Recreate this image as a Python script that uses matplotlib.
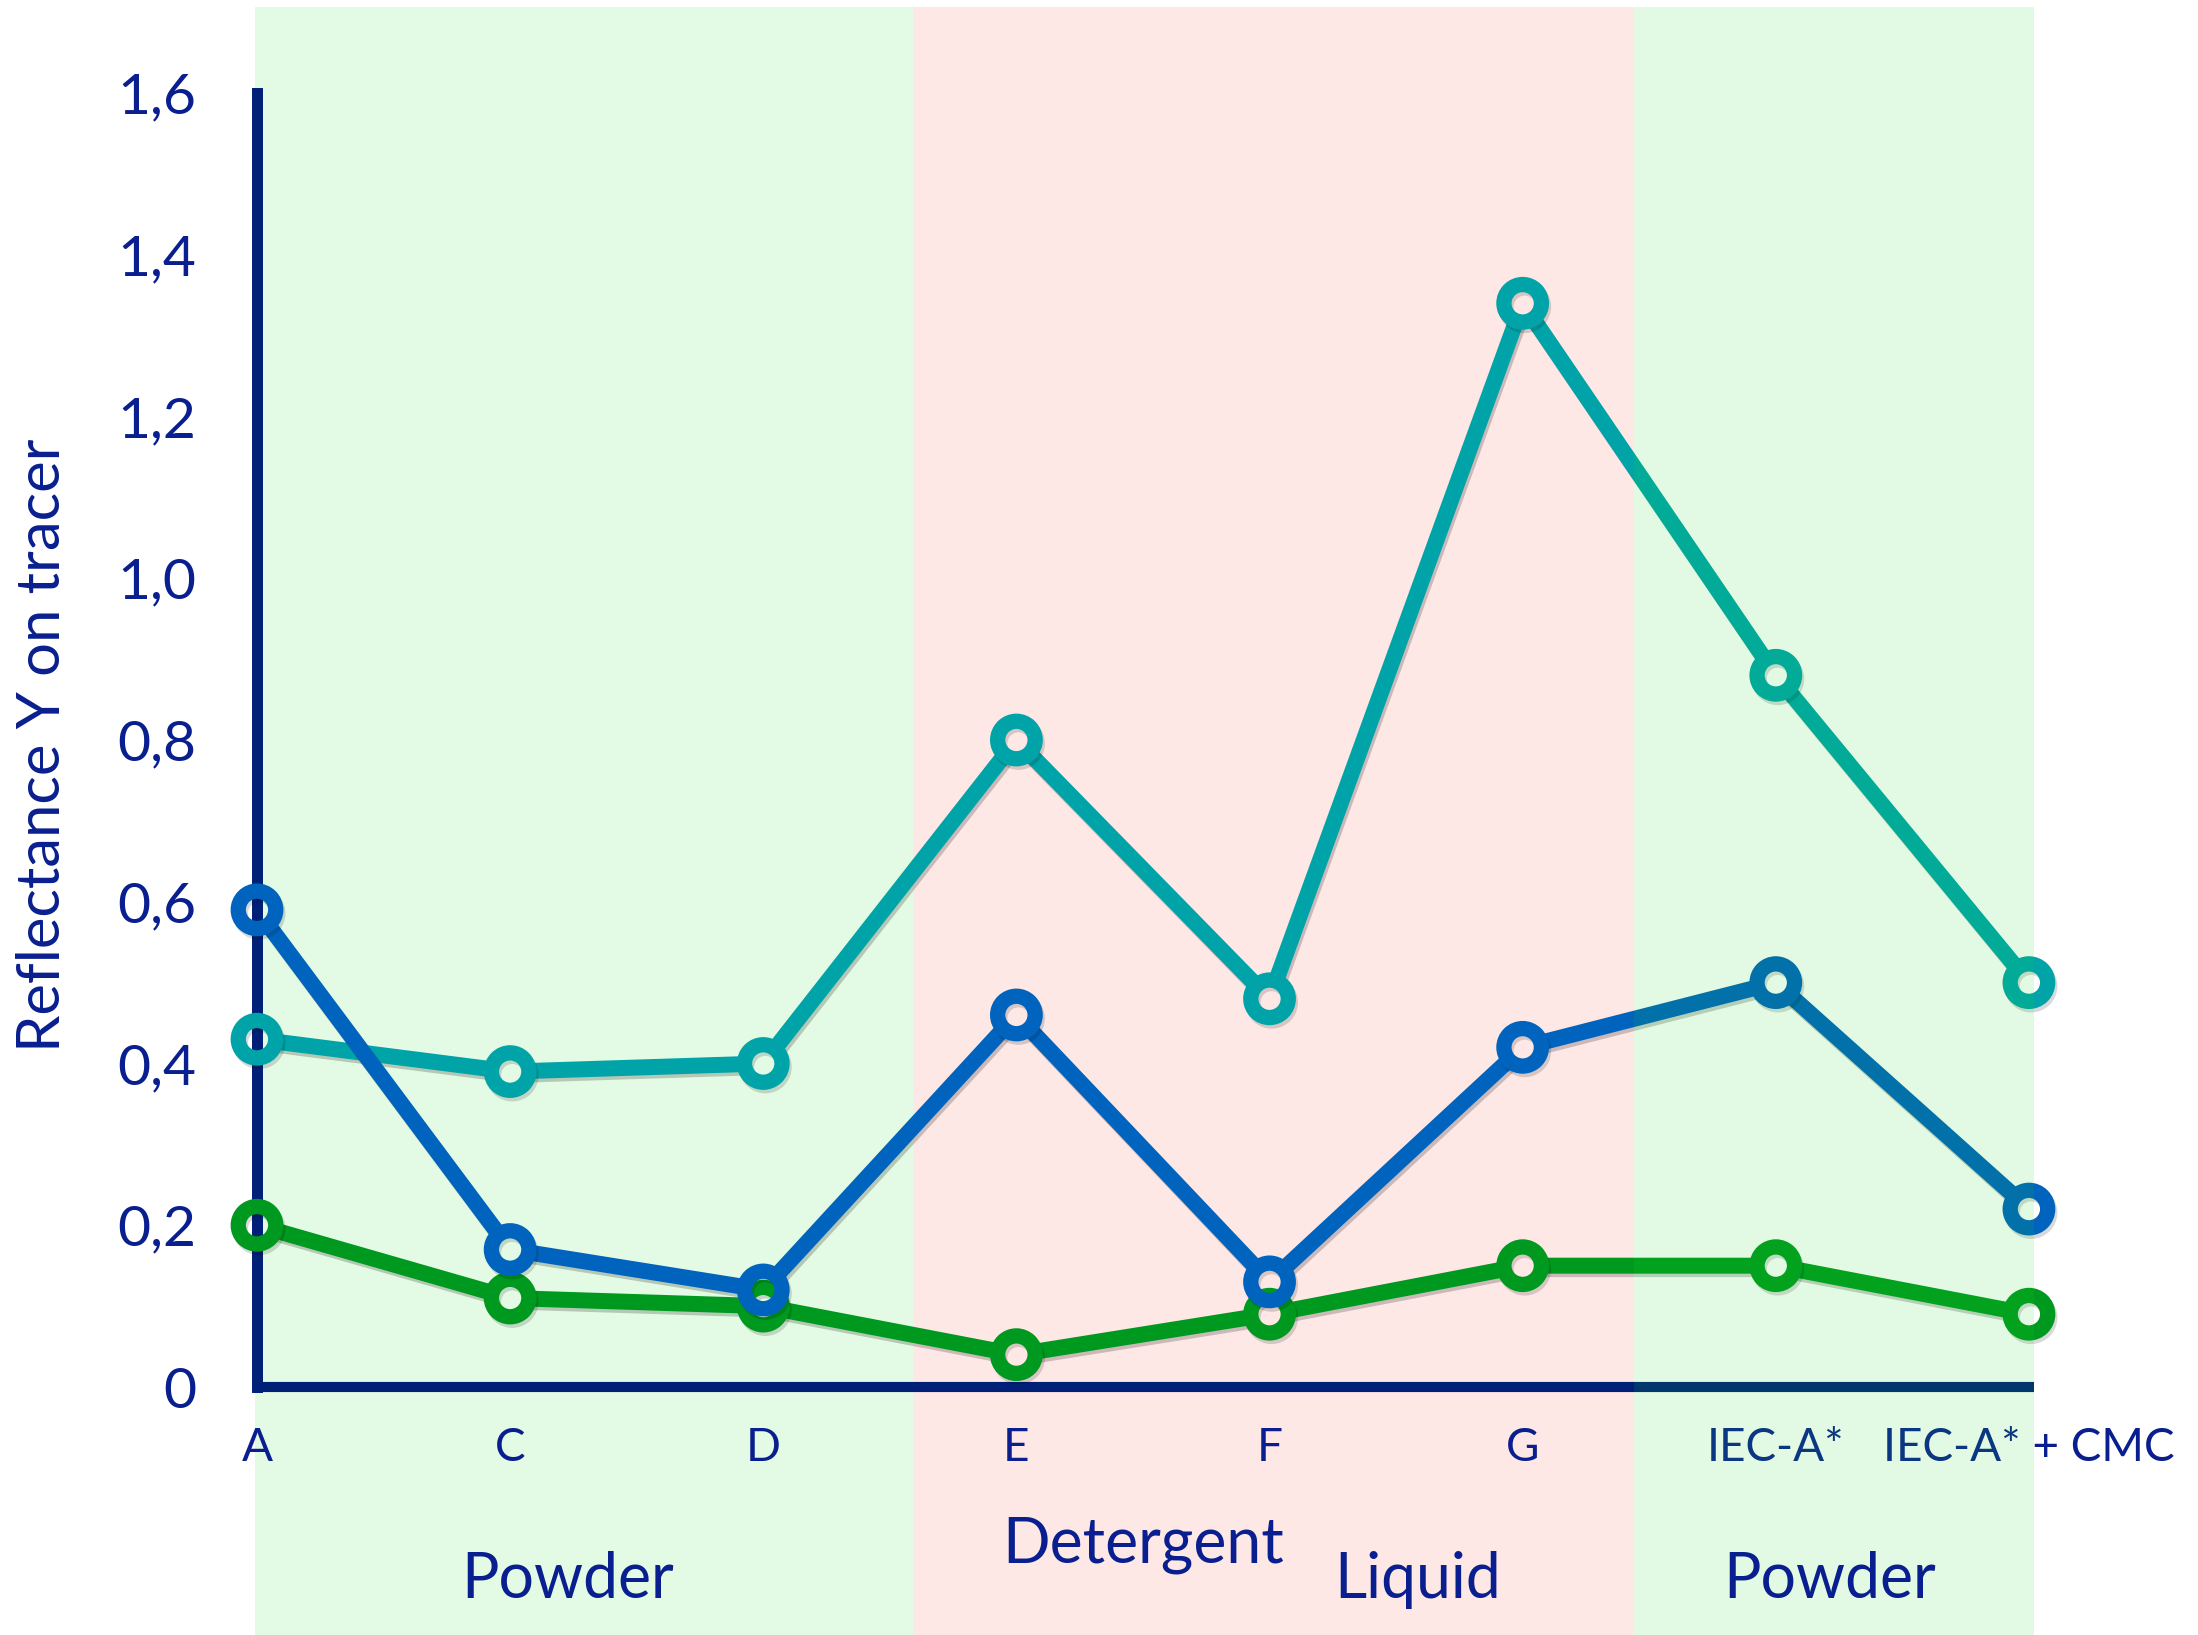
import matplotlib
matplotlib.use("Agg")
import matplotlib.pyplot as plt
import matplotlib.patheffects as pe
from matplotlib.patches import Rectangle, FancyArrowPatch
from matplotlib.transforms import blended_transform_factory

# ---- data -------------------------------------------------------------
categories = ["A", "C", "D", "E", "F", "G", "IEC-A*", "IEC-A* + CMC"]
teal_values = [0.43, 0.39, 0.40, 0.80, 0.48, 1.34, 0.88, 0.50]
blue_values = [0.59, 0.17, 0.12, 0.46, 0.13, 0.42, 0.50, 0.22]
green_values = [0.20, 0.11, 0.10, 0.04, 0.09, 0.15, 0.15, 0.09]
y_ticks = [0.0, 0.2, 0.4, 0.6, 0.8, 1.0, 1.2, 1.4, 1.6]
y_tick_labels = ["0", "0,2", "0,4", "0,6", "0,8", "1,0", "1,2", "1,4", "1,6"]
group_labels = ["Powder", "Detergent", "Liquid", "Powder"]

# ---- style ------------------------------------------------------------
plt.rcParams["font.family"] = ["Lato", "DejaVu Sans"]
TEXT = "#0A1F8F"
AXIS = "#002078"
TEAL = "#00A4A8"
BLUE = "#0063BE"
GREEN = "#00991F"
BAND_GREEN = "#E3FBE4"
BAND_PINK = "#FDE8E6"

W, H = 2198, 1635
fig = plt.figure(figsize=(W / 100, H / 100), dpi=100)
x_left, x_right = 257, 2034
y_zero, y_top = 1387, 93
ax = fig.add_axes([x_left / W, (H - y_zero) / H,
                   (x_right - x_left) / W, (y_zero - y_top) / H])
ax.set_xlim(0, 7.02)
ax.set_ylim(0, 1.6)
ax.patch.set_visible(False)

# background bands reaching from the top of the figure to the bottom
band_tr = blended_transform_factory(ax.transData, fig.transFigure)
band_top = (H - 7) / H
ax.add_patch(Rectangle((-0.008, 0), 2.6, band_top, transform=band_tr,
                       facecolor=BAND_GREEN, edgecolor="none", zorder=0, clip_on=False))
ax.add_patch(Rectangle((2.592, 0), 5.44 - 2.592, band_top, transform=band_tr,
                       facecolor=BAND_PINK, edgecolor="none", zorder=0, clip_on=False))
# translucent band laid over the last group
ax.add_patch(Rectangle((5.44, 0), 7.02 - 5.44, band_top, transform=band_tr,
                       facecolor=(22 / 255, 222 / 255, 30 / 255), alpha=0.12,
                       edgecolor="none", zorder=20, clip_on=False))

# axes lines
for side in ("top", "right"):
    ax.spines[side].set_visible(False)
ax.spines["left"].set_linewidth(7.9)
ax.spines["left"].set_color(AXIS)
ax.spines["left"].set_capstyle("projecting")
ax.spines["bottom"].set_linewidth(7.3)
ax.spines["bottom"].set_color(AXIS)
ax.spines["bottom"].set_capstyle("butt")

xs = list(range(len(categories)))
ax.set_xticks(xs)
ax.set_xticklabels(categories, fontsize=33, color=TEXT)
ax.set_yticks(y_ticks)
ax.set_yticklabels(y_tick_labels, fontsize=41, color=TEXT)
ax.tick_params(axis="x", length=0, pad=29)
ax.tick_params(axis="y", length=0, pad=44)

line_shadow = [pe.SimpleLineShadow(offset=(1.5, -2.5), shadow_color="k", alpha=0.2),
               pe.Normal()]
ring_shadow = [pe.SimpleLineShadow(offset=(1.5, -2.5), shadow_color="k", alpha=0.15),
               pe.Normal()]


def draw_series(values, color, z):
    # segments stop short of the point centres so the ring holes stay open
    for i in range(len(values) - 1):
        seg = FancyArrowPatch((xs[i], values[i]), (xs[i + 1], values[i + 1]),
                              arrowstyle="-", shrinkA=13, shrinkB=13,
                              linewidth=11.5, color=color, zorder=z,
                              capstyle="butt", clip_on=False)
        seg.set_path_effects(line_shadow)
        ax.add_patch(seg)
    ax.plot(xs, values, linestyle="none", marker="o", markersize=27,
            markeredgewidth=11, markerfacecolor="none", markeredgecolor=color,
            zorder=z + 0.5, clip_on=False, path_effects=ring_shadow)


draw_series(green_values, GREEN, 3)
draw_series(teal_values, TEAL, 5)
draw_series(blue_values, BLUE, 7)

# axis title and product groups
fig.text(43 / W, 1 - 745 / H, "Reflectance Y on tracer", rotation=90,
         ha="center", va="center", fontsize=43, color=TEXT)
group_x = [568, 1143, 1418, 1830]
group_base = [1598, 1562, 1598, 1598]
for label, gx, gy in zip(group_labels, group_x, group_base):
    fig.text(gx / W, 1 - gy / H, label, ha="center", va="baseline",
             fontsize=45, color=TEXT)

fig.savefig("out.png", dpi=100, facecolor="white")
